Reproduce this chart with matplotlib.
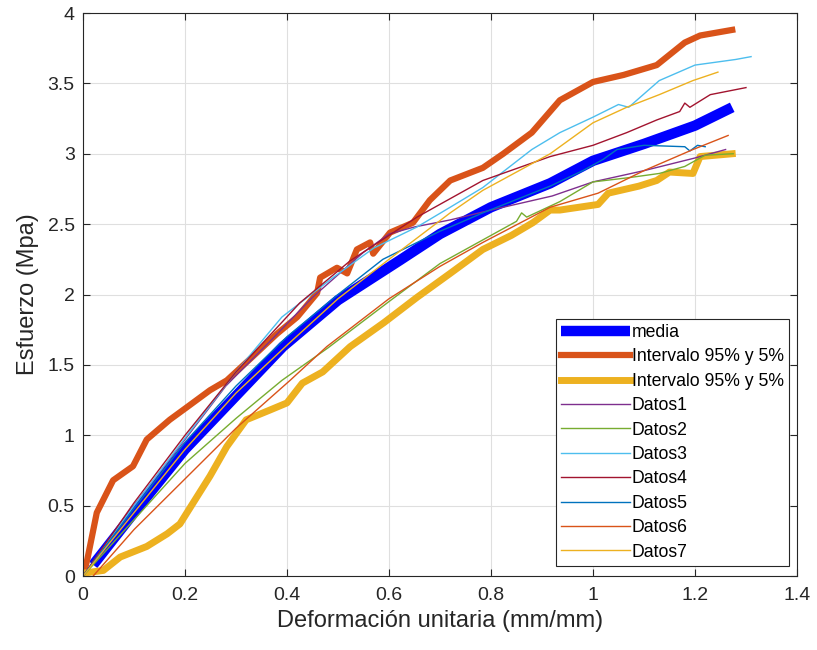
import numpy as np
import matplotlib.pyplot as plt
from matplotlib.ticker import FuncFormatter

plt.rcParams['font.family'] = ['Liberation Sans', 'DejaVu Sans']

# media
media_x = [0.02, 0.1, 0.2, 0.3, 0.392, 0.5, 0.622, 0.7, 0.8, 0.916, 1.0, 1.1, 1.2, 1.273]
media_y = [0.08, 0.45, 0.9, 1.28, 1.63, 1.96, 2.245, 2.43, 2.62, 2.79, 2.95, 3.07, 3.2, 3.33]

# upper interval (95%)
sup_x = [0.0, 0.008, 0.027, 0.059, 0.098, 0.125, 0.17, 0.204, 0.249, 0.282, 0.33, 0.38, 0.42,
         0.459, 0.465, 0.498, 0.518, 0.537, 0.563, 0.569, 0.602, 0.647, 0.68, 0.72, 0.784,
         0.824, 0.88, 0.935, 0.96, 1.0, 1.06, 1.125, 1.18, 1.21, 1.273]
sup_y = [0.0, 0.11, 0.45, 0.68, 0.78, 0.97, 1.11, 1.2, 1.32, 1.39, 1.55, 1.72, 1.84,
         2.01, 2.12, 2.19, 2.15, 2.32, 2.37, 2.29, 2.44, 2.51, 2.67, 2.81, 2.9,
         3.0, 3.15, 3.38, 3.43, 3.51, 3.56, 3.63, 3.79, 3.84, 3.88]

# lower interval (5%)
inf_x = [0.0, 0.04, 0.073, 0.125, 0.165, 0.19, 0.216, 0.249, 0.282, 0.32, 0.367, 0.4, 0.43,
         0.47, 0.524, 0.59, 0.655, 0.72, 0.784, 0.84, 0.882, 0.916, 0.935, 1.01, 1.03,
         1.09, 1.125, 1.15, 1.196, 1.21, 1.273]
inf_y = [0.02, 0.04, 0.135, 0.21, 0.30, 0.37, 0.52, 0.71, 0.92, 1.11, 1.18, 1.23, 1.37,
         1.45, 1.63, 1.8, 1.98, 2.15, 2.32, 2.42, 2.51, 2.6, 2.6, 2.64, 2.72,
         2.77, 2.81, 2.87, 2.86, 2.98, 3.0]

datos1_x = [0.0, 0.1, 0.2, 0.28, 0.37, 0.45, 0.55, 0.6, 0.65, 0.72, 0.8, 0.92, 1.0, 1.1, 1.2, 1.26]
datos1_y = [0.0, 0.5, 0.97, 1.35, 1.68, 1.98, 2.3, 2.43, 2.48, 2.53, 2.6, 2.7, 2.8, 2.88, 2.97, 3.03]

datos2_x = [0.0, 0.1, 0.2, 0.3, 0.39, 0.48, 0.6, 0.7, 0.8, 0.85, 0.86, 0.87, 0.935, 1.0,
            1.07, 1.13, 1.18, 1.22, 1.275]
datos2_y = [0.0, 0.4, 0.8, 1.12, 1.39, 1.62, 1.95, 2.22, 2.42, 2.52, 2.58, 2.55, 2.66, 2.8,
            2.83, 2.86, 2.91, 2.99, 3.0]

datos3_x = [0.0, 0.1, 0.2, 0.3, 0.39, 0.49, 0.57, 0.655, 0.72, 0.784, 0.88, 0.935, 1.0,
            1.05, 1.07, 1.13, 1.2, 1.28, 1.31]
datos3_y = [0.0, 0.5, 0.98, 1.45, 1.84, 2.12, 2.33, 2.48, 2.62, 2.76, 3.03, 3.15, 3.26,
            3.35, 3.33, 3.52, 3.63, 3.67, 3.69]

datos4_x = [0.0, 0.1, 0.2, 0.3, 0.425, 0.524, 0.655, 0.784, 0.916, 1.0, 1.066, 1.125,
            1.17, 1.18, 1.19, 1.23, 1.30]
datos4_y = [0.0, 0.52, 1.0, 1.45, 1.94, 2.24, 2.55, 2.81, 2.98, 3.06, 3.15, 3.24,
            3.3, 3.36, 3.33, 3.42, 3.47]

datos5_x = [0.0, 0.1, 0.2, 0.3, 0.4, 0.5, 0.588, 0.7, 0.72, 0.784, 0.916, 0.98, 1.02,
            1.047, 1.1, 1.18, 1.19, 1.205, 1.22]
datos5_y = [0.0, 0.48, 0.95, 1.35, 1.7, 2.0, 2.25, 2.45, 2.48, 2.58, 2.77, 2.88, 2.96,
            3.03, 3.06, 3.05, 3.02, 3.06, 3.05]

datos6_x = [0.02, 0.1, 0.2, 0.3, 0.406, 0.478, 0.6, 0.7, 0.784, 0.916, 1.01, 1.1, 1.196, 1.265]
datos6_y = [0.0, 0.33, 0.69, 1.05, 1.39, 1.63, 1.97, 2.2, 2.37, 2.62, 2.72, 2.88, 3.03, 3.13]

datos7_x = [0.0, 0.1, 0.2, 0.3, 0.4, 0.5, 0.6, 0.72, 0.784, 0.916, 1.0, 1.066, 1.13, 1.196, 1.245]
datos7_y = [0.0, 0.45, 0.9, 1.3, 1.64, 1.97, 2.25, 2.58, 2.74, 3.0, 3.22, 3.33, 3.42, 3.52, 3.58]

datos = [(datos1_x, datos1_y, '#7E2F8E', 'Datos1'),
         (datos2_x, datos2_y, '#77AC30', 'Datos2'),
         (datos3_x, datos3_y, '#4DBEEE', 'Datos3'),
         (datos4_x, datos4_y, '#A2142F', 'Datos4'),
         (datos5_x, datos5_y, '#0072BD', 'Datos5'),
         (datos6_x, datos6_y, '#D95319', 'Datos6'),
         (datos7_x, datos7_y, '#EDB120', 'Datos7')]

fig = plt.figure(figsize=(8.17, 6.5), dpi=100)
ax = fig.add_axes([0.1016, 0.1138, 0.8739, 0.8662])

ax.plot(media_x, media_y, color='#0000FF', lw=7.5, label='media', solid_capstyle='butt')
ax.plot(sup_x, sup_y, color='#D95319', lw=4.5, label='Intervalo 95% y 5%')
ax.plot(inf_x, inf_y, color='#EDB120', lw=5, label='Intervalo 95% y 5%')
for x, y, c, name in datos:
    ax.plot(x, y, color=c, lw=1, label=name)

ax.set_xlim(0, 1.4)
ax.set_ylim(0, 4)
ax.set_xticks(np.arange(0, 1.41, 0.2))
ax.set_yticks(np.arange(0, 4.01, 0.5))
fmt = FuncFormatter(lambda v, p: '%g' % round(v, 2))
ax.xaxis.set_major_formatter(fmt)
ax.yaxis.set_major_formatter(fmt)
ax.grid(True, color='#DFDFDF', lw=0.8)
ax.set_axisbelow(True)
ax.tick_params(direction='in', top=True, right=True, length=5, width=0.8,
               colors='#262626', labelsize=14)
ax.tick_params(axis='x', pad=8)
ax.tick_params(axis='y', pad=6)
for s in ax.spines.values():
    s.set_color('#262626')
    s.set_linewidth(0.8)

ax.set_xlabel('Deformación unitaria (mm/mm)', fontsize=17, color='#262626', labelpad=4)
ax.set_ylabel('Esfuerzo (Mpa)', fontsize=17, color='#262626', labelpad=6)

leg = ax.legend(loc='lower right', bbox_to_anchor=(0.989, 0.018), fontsize=12.7,
                handlelength=3.9, labelspacing=0.42, handletextpad=0.1,
                borderpad=0.3, borderaxespad=0, fancybox=False, framealpha=1)
leg.get_frame().set_edgecolor('#262626')
leg.get_frame().set_linewidth(0.8)

fig.savefig('out.png', dpi=100)
